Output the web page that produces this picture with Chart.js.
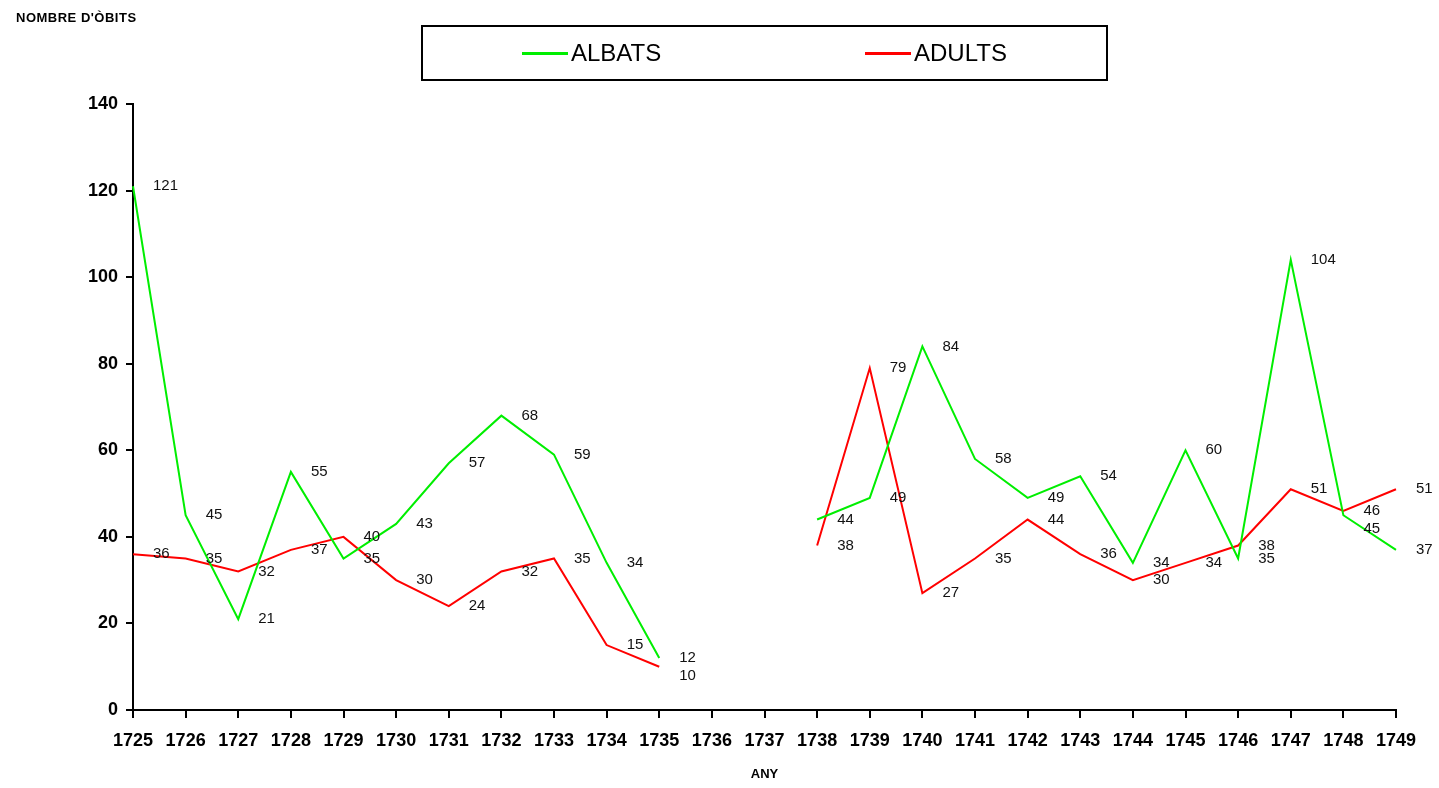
<!DOCTYPE html>
<html lang="ca">
<head>
    <meta charset="UTF-8">
    <title>Nombre d'òbits</title>
    <script src="https://cdn.jsdelivr.net/npm/chart.js"></script>
    <style>
        body { margin: 0; background: #fff; }
        #wrap { position: relative; width: 1439px; height: 788px; }
        #legend {
            position: absolute; left: 421px; top: 25px; width: 683px; height: 52px;
            border: 2px solid #000; font-family: "Liberation Sans", Arial, sans-serif;
            font-size: 24px; color: #000;
        }
        .item { position: absolute; top: 12px; display: flex; align-items: center; }
        .swatch { width: 46px; height: 3px; margin-right: 3px; }
    </style>
</head>
<body>
<div id="wrap">
    <canvas id="graph" width="1439" height="788"></canvas>
    <div id="legend">
        <div class="item" style="left: 99px;"><span class="swatch" style="background:#00ee00"></span>ALBATS</div>
        <div class="item" style="left: 442px;"><span class="swatch" style="background:#ff0000"></span>ADULTS</div>
    </div>
</div>

<script>
    // years on the x axis
    const years = ["1725", "1726", "1727", "1728", "1729", "1730", "1731", "1732", "1733", "1734",
        "1735", "1736", "1737", "1738", "1739", "1740", "1741", "1742", "1743", "1744",
        "1745", "1746", "1747", "1748", "1749"];

    // deaths of children (albats) and adults, no data for 1736-1737
    const albats = [121, 45, 21, 55, 35, 43, 57, 68, 59, 34, 12, null, null,
        44, 49, 84, 58, 49, 54, 34, 60, 35, 104, 45, 37];
    const adults = [36, 35, 32, 37, 40, 30, 24, 32, 35, 15, 10, null, null,
        38, 79, 27, 35, 44, 36, 30, 34, 38, 51, 46, 51];

    const yTicks = [0, 20, 40, 60, 80, 100, 120, 140];

    // writes each value to the right of its point, pushing clashing labels apart
    const valueLabels = {
        id: "valueLabels",
        afterDatasetsDraw(chart) {
            const ctx = chart.ctx;
            const xs = chart.scales.x, ys = chart.scales.y;
            ctx.save();
            ctx.font = "15px 'Liberation Sans', Arial, sans-serif";
            ctx.fillStyle = "#111";
            ctx.textAlign = "left";
            ctx.textBaseline = "middle";
            chart.data.labels.forEach((lab, i) => {
                const items = [];
                chart.data.datasets.forEach(ds => {
                    const v = ds.data[i];
                    if (v !== null) items.push({ v: v, y: ys.getPixelForValue(v) });
                });
                items.sort((a, b) => a.y - b.y);
                for (let k = 1; k < items.length; k++) {
                    if (items[k].y - items[k - 1].y < 12) items[k].y = items[k - 1].y + 18;
                }
                items.forEach(it => ctx.fillText(String(it.v), xs.getPixelForValue(i) + 20, it.y));
            });
            // y axis caption at the top left
            ctx.font = "bold 13px 'Liberation Sans', Arial, sans-serif";
            ctx.fillStyle = "#000";
            ctx.textBaseline = "alphabetic";
            ctx.letterSpacing = "0.5px";
            ctx.fillText("NOMBRE D'ÒBITS", 16, 22);
            ctx.restore();
        }
    };

    const ctx = document.getElementById("graph").getContext("2d");
    new Chart(ctx, {
        type: "line",
        data: {
            labels: years,
            datasets: [
                { label: "ALBATS", data: albats, borderColor: "#00ee00", borderWidth: 2, pointRadius: 0, tension: 0, spanGaps: false },
                { label: "ADULTS", data: adults, borderColor: "#ff0000", borderWidth: 2, pointRadius: 0, tension: 0, spanGaps: false }
            ]
        },
        options: {
            responsive: false,
            animation: false,
            layout: { padding: { top: 104, right: 43, left: 0, bottom: 0 } },
            plugins: { legend: { display: false }, tooltip: { enabled: false } },
            scales: {
                x: {
                    offset: false,
                    afterFit: scale => { scale.height = 78; },
                    border: { color: "#000", width: 2 },
                    grid: { drawOnChartArea: false, color: "#000", lineWidth: 2, tickLength: 8 },
                    ticks: {
                        color: "#000", padding: 12, maxRotation: 0, autoSkip: false,
                        font: { family: "'Liberation Sans', Arial, sans-serif", size: 18, weight: "bold" }
                    },
                    title: {
                        display: true, text: "ANY", color: "#000", padding: { top: 0, bottom: 6 },
                        font: { family: "'Liberation Sans', Arial, sans-serif", size: 13, weight: "bold" }
                    }
                },
                y: {
                    min: 0, max: 140,
                    afterFit: scale => { scale.width = 133; },
                    afterBuildTicks: scale => { scale.ticks = yTicks.map(v => ({ value: v })); },
                    border: { color: "#000", width: 2 },
                    grid: { drawOnChartArea: false, color: "#000", lineWidth: 2, tickLength: 7 },
                    ticks: {
                        color: "#000", padding: 8,
                        font: { family: "'Liberation Sans', Arial, sans-serif", size: 18, weight: "bold" }
                    }
                }
            }
        },
        plugins: [valueLabels]
    });
</script>
</body>
</html>
